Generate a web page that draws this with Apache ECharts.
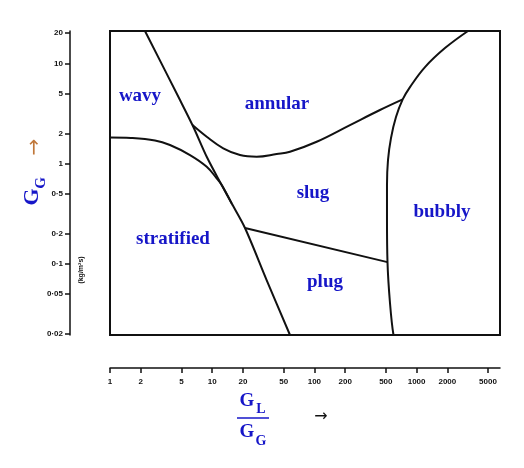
<!DOCTYPE html>
<html><head><meta charset="utf-8">
<script src="https://cdn.jsdelivr.net/npm/echarts@6/dist/echarts.min.js"></script>
<style>html,body{margin:0;padding:0;background:#fff}#c{width:524px;height:468px}</style>
</head><body><div id="c"></div>
<script>
// Tick values
const xTicks = [1, 2, 5, 10, 20, 50, 100, 200, 500, 1000, 2000, 5000];
const yTicks = [0.02, 0.05, 0.1, 0.2, 0.5, 1, 2, 5, 10, 20];

// Boundary curves (x = GL/GG, y = GG)
const lineA_x = [2.199, 4.842, 6.528, 8.839, 12.39, 15.49, 20.94, 34.09, 57.7];
const lineA_y = [21, 4.30, 2.33, 1.17, 0.61, 0.401, 0.2275, 0.0689, 0.0195];

const lineB_x = [1, 1.6, 2.756, 3.863, 6.066, 8.839, 11.06, 12.39, 15.49];
const lineB_y = [1.82, 1.80, 1.70, 1.53, 1.215, 0.929, 0.712, 0.61, 0.401];

const lineC_x = [6.413, 8.839, 12.83, 18.71, 27.24, 42.73, 57.7, 105.3, 223.0, 438.2, 731.1];
const lineC_y = [2.42, 1.85, 1.418, 1.215, 1.169, 1.243, 1.311, 1.65, 2.42, 3.42, 4.365];

const lineD_x = [3184, 1896, 1209, 861.7, 731.1, 628.7, 561.7, 525.1, 513.3, 513.3, 519.2, 549.2, 594.3];
const lineD_y = [21, 14.18, 9.165, 5.79, 4.365, 2.909, 1.796, 1.084, 0.6106, 0.2734, 0.104, 0.0407, 0.0195];

const lineE_x = [20.94, 519.2];
const lineE_y = [0.2275, 0.104];

function pts(xs, ys) { return xs.map((x, i) => [x, ys[i]]); }
function fmt(v) { return String(Number(Number(v).toPrecision(3))).replace('.', '\u00b7'); }

const blue = '#1616c8';
const ink = '#111';
const lineStyle = { color: ink, width: 2 };
function curve(xs, ys, smooth) {
  return { type: 'line', data: pts(xs, ys), showSymbol: false, symbol: 'none', smooth: smooth,
           lineStyle: lineStyle, silent: true, clip: false, z: 3 };
}

const regionFont = 'bold 19px "Liberation Serif", "Times New Roman", serif';
function region(text, x, y) {
  return { type: 'text', x: x, y: y, style: { text: text, fill: blue, font: regionFont, textAlign: 'center', textVerticalAlign: 'middle' }, z: 10 };
}

const chart = echarts.init(document.getElementById('c'), null, { renderer: 'canvas' });
chart.setOption({
  animation: false,
  backgroundColor: '#fff',
  grid: { left: 110, right: 24, top: 31, bottom: 133, show: true, borderColor: ink, borderWidth: 2, backgroundColor: 'transparent' },
  xAxis: {
    type: 'log', min: 1, max: 6550, offset: 33,
    axisLine: { show: true, lineStyle: { color: ink, width: 1.5 } },
    axisTick: { show: true, customValues: xTicks, length: 5, lineStyle: { color: ink, width: 1.5 } },
    minorTick: { show: false },
    axisLabel: { customValues: xTicks, formatter: fmt, color: ink, fontSize: 8, fontWeight: 'bold', fontFamily: 'Liberation Sans, Arial', margin: 10 },
    splitLine: { show: false }
  },
  yAxis: {
    type: 'log', min: 0.0195, max: 21, offset: 40,
    axisLine: { show: true, lineStyle: { color: ink, width: 1.5 } },
    axisTick: { show: true, customValues: yTicks, length: 5, lineStyle: { color: ink, width: 1.5 } },
    minorTick: { show: false },
    axisLabel: { customValues: yTicks, formatter: fmt, color: ink, fontSize: 8, fontWeight: 'bold', fontFamily: 'Liberation Sans, Arial', margin: 7 },
    splitLine: { show: false }
  },
  series: [
    curve(lineA_x, lineA_y, 0.3),
    curve(lineB_x, lineB_y, 0.4),
    curve(lineC_x, lineC_y, 0.4),
    curve(lineD_x, lineD_y, 0.4),
    curve(lineE_x, lineE_y, false)
  ],
  graphic: [
    region('wavy', 140, 96),
    region('annular', 277, 104),
    region('slug', 313, 193),
    region('stratified', 173, 239),
    region('plug', 325, 282),
    region('bubbly', 442, 212),
    // y axis name G_G with arrow
    { type: 'text', x: 32, y: 197, rotation: Math.PI / 2, style: { text: 'G', fill: blue, font: 'bold 22px "Liberation Serif", serif', textAlign: 'center', textVerticalAlign: 'middle' } },
    { type: 'text', x: 41, y: 183, rotation: Math.PI / 2, style: { text: 'G', fill: blue, font: 'bold 15px "Liberation Serif", serif', textAlign: 'center', textVerticalAlign: 'middle' } },
    { type: 'text', x: 35, y: 147, rotation: Math.PI / 2, style: { text: '\u2192', fill: '#c0773a', font: '20px "DejaVu Sans", sans-serif', textAlign: 'center', textVerticalAlign: 'middle' } },
    // unit label
    { type: 'text', x: 81, y: 270, rotation: Math.PI / 2, style: { text: '(kg/m\u00b2s)', fill: ink, font: 'bold 7px "Liberation Sans", sans-serif', textAlign: 'center', textVerticalAlign: 'middle' } },
    // x axis name GL / GG
    { type: 'text', x: 247, y: 401, style: { text: 'G', fill: blue, font: 'bold 19px "Liberation Serif", serif', textAlign: 'center', textVerticalAlign: 'middle' } },
    { type: 'text', x: 261, y: 409, style: { text: 'L', fill: blue, font: 'bold 14px "Liberation Serif", serif', textAlign: 'center', textVerticalAlign: 'middle' } },
    { type: 'line', shape: { x1: 237, y1: 418, x2: 269, y2: 418 }, style: { stroke: blue, lineWidth: 1.5 } },
    { type: 'text', x: 247, y: 432, style: { text: 'G', fill: blue, font: 'bold 19px "Liberation Serif", serif', textAlign: 'center', textVerticalAlign: 'middle' } },
    { type: 'text', x: 261, y: 441, style: { text: 'G', fill: blue, font: 'bold 14px "Liberation Serif", serif', textAlign: 'center', textVerticalAlign: 'middle' } },
    { type: 'text', x: 321, y: 417, style: { text: '\u2192', fill: ink, font: '16px "DejaVu Sans", sans-serif', textAlign: 'center', textVerticalAlign: 'middle' } }
  ]
});
</script></body></html>
